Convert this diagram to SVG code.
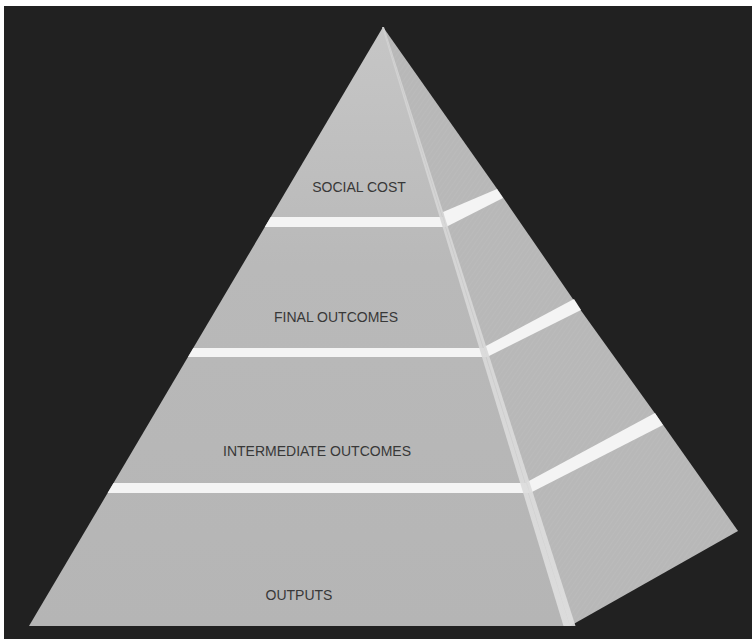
<svg xmlns="http://www.w3.org/2000/svg" width="752" height="639" viewBox="0 0 752 639">
  <defs>
    <linearGradient id="frontShade" x1="0" y1="27" x2="0" y2="626" gradientUnits="userSpaceOnUse">
      <stop offset="0" stop-color="#c6c6c6"/>
      <stop offset="0.4" stop-color="#b9b9b9"/>
      <stop offset="1" stop-color="#b5b5b5"/>
    </linearGradient>
    <linearGradient id="sideShade" x1="383" y1="27" x2="700" y2="600" gradientUnits="userSpaceOnUse">
      <stop offset="0" stop-color="#b8b8b8"/>
      <stop offset="1" stop-color="#a9a9a9"/>
    </linearGradient>
    <pattern id="sideHatch" width="4" height="4" patternUnits="userSpaceOnUse" patternTransform="rotate(35)">
      <rect width="4" height="4" fill="url(#sideShade)"/>
      <line x1="0" y1="0" x2="0" y2="4" stroke="#ffffff" stroke-opacity="0.06" stroke-width="1.5"/>
    </pattern>
    <linearGradient id="ridgeShade" x1="0" y1="27" x2="0" y2="626" gradientUnits="userSpaceOnUse">
      <stop offset="0" stop-color="#d2d2d2"/>
      <stop offset="1" stop-color="#dfdfdf"/>
    </linearGradient>
  </defs>
  <style>
    .front { fill: url(#frontShade); }
    .side { fill: url(#sideHatch); }
    .band { fill: #f4f4f4; }
    .label { font-family: "Liberation Sans", Arial, sans-serif; font-size: 14px; fill: #383838; text-anchor: middle; }
  </style>

  <!-- backdrop with light margin strips -->
  <rect x="0" y="0" width="752" height="639" fill="#ffffff"/>
  <rect x="4" y="6" width="748" height="633" fill="#212121"/>

  <!-- tiers, top to bottom -->
  <g id="tier-social-cost">
    <polygon class="front" points="383,27 267.8,222 443.6,222"/>
    <polygon class="side" points="383,27 444,221 500,193"/>
    <text class="label" x="359" y="192">SOCIAL COST</text>
  </g>
  <g id="tier-final-outcomes">
    <polygon class="front" points="267.8,222 443.6,222 484.1,352 190.9,352"/>
    <polygon class="side" points="444,221 500,193 577,305 485,352"/>
    <text class="label" x="336" y="322">FINAL OUTCOMES</text>
  </g>
  <g id="tier-intermediate-outcomes">
    <polygon class="front" points="190.9,352 484.1,352 526.4,488 110.6,488"/>
    <polygon class="side" points="485,352 577,305 659,419 527,488"/>
    <text class="label" x="317" y="456">INTERMEDIATE OUTCOMES</text>
  </g>
  <g id="tier-outputs">
    <polygon class="front" points="110.6,488 526.4,488 570,626 29,626"/>
    <polygon class="side" points="527,488 659,419 738,531 570,626"/>
    <text class="label" x="299" y="600">OUTPUTS</text>
  </g>

  <!-- dividing bands and the front/side ridge -->
  <g id="connectors">
    <polygon class="band" points="270.7,217 442.6,217 445.8,227 264.8,227"/>
    <polygon class="band" points="443,212 497,189 503,198 446,227"/>
    <polygon class="band" points="193.3,348 484,348 487,357 188,357"/>
    <polygon class="band" points="484,347 574,299 581,310 487,357"/>
    <polygon class="band" points="113.5,483 526,483 529.5,493 107.6,493"/>
    <polygon class="band" points="527,482 655,413 663,425 530,493"/>
    <polygon points="382,27 384,27 575.5,626 563.5,626" fill="url(#ridgeShade)" fill-opacity="0.92"/>
  </g>
</svg>
